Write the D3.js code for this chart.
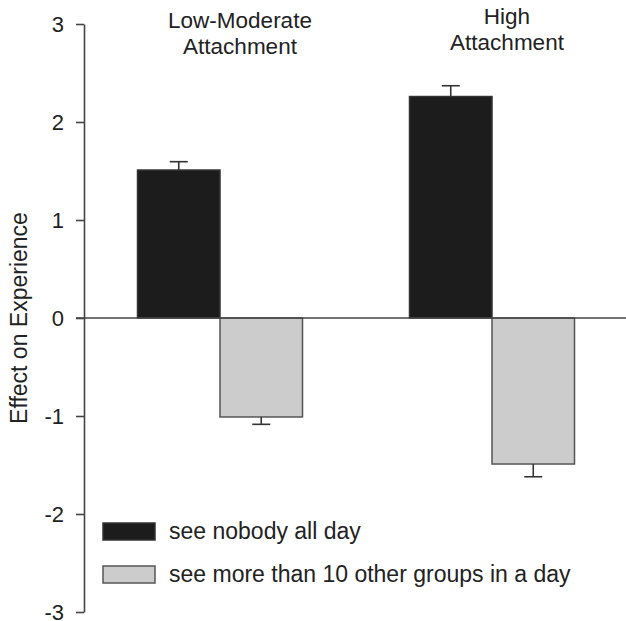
<!DOCTYPE html>
<html>
<head>
<meta charset="utf-8">
<script src="https://cdn.jsdelivr.net/npm/d3@7"></script>
<style>
  body { margin: 0; background: #fff; }
  text { font-family: Arial, "Liberation Sans", sans-serif; fill: #222; }
</style>
</head>
<body>
<div id="chart"></div>
<script>
// data
var groups = ["Low-Moderate Attachment", "High Attachment"];
var group_lines = [["Low-Moderate", "Attachment"], ["High", "Attachment"]];
var series = ["see nobody all day", "see more than 10 other groups in a day"];
var nobody_values = [1.51, 2.26];
var nobody_errors = [0.085, 0.11];
var crowd_values = [-1.01, -1.49];
var crowd_errors = [0.075, 0.13];
var y_ticks = [-3, -2, -1, 0, 1, 2, 3];

var colors = ["#1c1c1c", "#cccccc"];
var strokes = ["#333", "#555"];

var width = 626, height = 621;
var svg = d3.select("#chart").append("svg")
  .attr("width", width)
  .attr("height", height);

var x0 = d3.scaleBand().domain(groups).range([84, 628]).padding(0);
var x1 = d3.scaleBand().domain(series)
  .range([(x0.bandwidth() - 165) / 2, (x0.bandwidth() + 165) / 2]);
var y = d3.scaleLinear().domain([-3, 3]).range([612, 24]);

// build rows
var rows = [];
groups.forEach(function(g, i) {
  rows.push({group: g, series: series[0], value: nobody_values[i], err: nobody_errors[i], k: 0});
  rows.push({group: g, series: series[1], value: crowd_values[i], err: crowd_errors[i], k: 1});
});

// bars
svg.append("g").selectAll("rect")
  .data(rows)
  .join("rect")
    .attr("x", function(d) { return x0(d.group) + x1(d.series); })
    .attr("y", function(d) { return y(Math.max(0, d.value)); })
    .attr("width", x1.bandwidth())
    .attr("height", function(d) { return Math.abs(y(d.value) - y(0)); })
    .attr("fill", function(d) { return colors[d.k]; })
    .attr("stroke", function(d) { return strokes[d.k]; })
    .attr("stroke-width", 1.5);

// error bars (one-sided, away from zero)
var eb = svg.append("g").attr("stroke", "#333").attr("stroke-width", 1.6);
rows.forEach(function(d) {
  var cx = x0(d.group) + x1(d.series) + x1.bandwidth() / 2;
  var tip = d.value >= 0 ? d.value + d.err : d.value - d.err;
  eb.append("line").attr("x1", cx).attr("x2", cx).attr("y1", y(d.value)).attr("y2", y(tip));
  eb.append("line").attr("x1", cx - 9).attr("x2", cx + 9).attr("y1", y(tip)).attr("y2", y(tip));
});

// zero line
svg.append("line")
  .attr("x1", 76).attr("x2", width)
  .attr("y1", y(0)).attr("y2", y(0))
  .attr("stroke", "#444").attr("stroke-width", 1.6);

// y axis
var yAxis = svg.append("g")
  .attr("transform", "translate(84,0)")
  .call(d3.axisLeft(y).tickValues(y_ticks).tickSize(8).tickPadding(12).tickSizeOuter(0)
    .tickFormat(function(d) { return String(d); }));
yAxis.select(".domain").attr("stroke", "#444").attr("stroke-width", 1.6);
yAxis.selectAll(".tick line").attr("stroke", "#444").attr("stroke-width", 1.6);
yAxis.selectAll(".tick text")
  .style("font-size", "22px")
  .attr("fill", "#222");

// y label
svg.append("text")
  .attr("transform", "translate(27," + y(0) + ") rotate(-90)")
  .attr("text-anchor", "middle")
  .style("font-size", "23px")
  .text("Effect on Experience");

// group titles
var title_offsets = [[20, 28], [15, 24]];
group_lines.forEach(function(lines, i) {
  var cx = x0(groups[i]) + x0.bandwidth() / 2 + title_offsets[i][0];
  var t = svg.append("text")
    .attr("text-anchor", "middle")
    .style("font-size", "22.5px")
    .attr("x", cx)
    .attr("y", title_offsets[i][1]);
  lines.forEach(function(l, j) {
    t.append("tspan")
      .attr("x", cx)
      .attr("dy", j === 0 ? 0 : 26)
      .text(l);
  });
});

// legend
var legend = svg.append("g").attr("transform", "translate(103,523)");
series.forEach(function(s, i) {
  var row = legend.append("g").attr("transform", "translate(0," + (i * 43) + ")");
  row.append("rect")
    .attr("width", 52).attr("height", 17)
    .attr("fill", colors[i])
    .attr("stroke", strokes[i]).attr("stroke-width", 1.5);
  row.append("text")
    .attr("x", 66).attr("y", 16)
    .style("font-size", "23px")
    .text(s);
});
</script>
</body>
</html>
